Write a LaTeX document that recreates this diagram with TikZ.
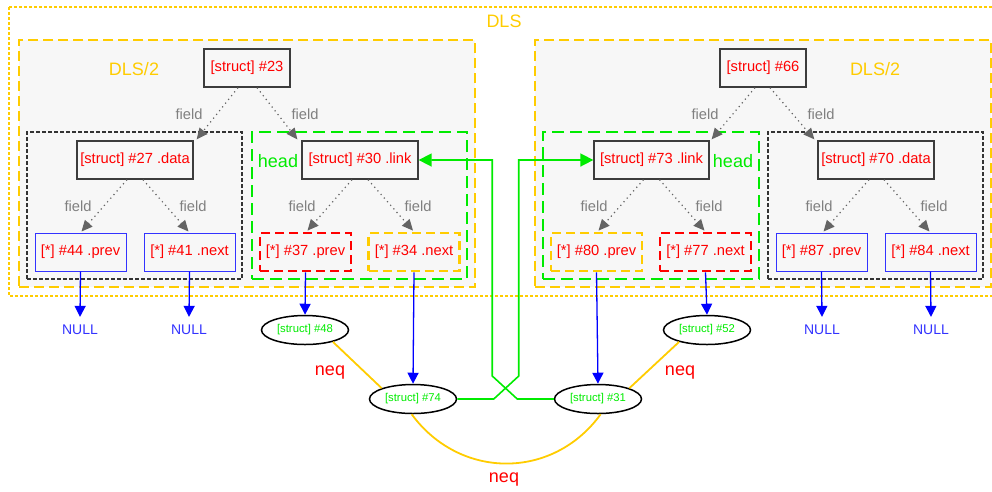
\documentclass[tikz,border=0pt]{standalone}
\usepackage{fontspec}
\setmainfont{Liberation Sans}
\usetikzlibrary{arrows.meta,shapes.geometric}
\definecolor{dlsyel}{RGB}{255,204,0}
\definecolor{hgreen}{RGB}{0,235,0}
\definecolor{tred}{RGB}{255,0,0}
\definecolor{pblue}{RGB}{0,0,255}
\definecolor{pblueb}{RGB}{51,51,255}
\definecolor{bggray}{RGB}{247,247,247}
\definecolor{fgray}{RGB}{128,128,128}
\definecolor{egray}{RGB}{100,100,100}
\definecolor{boxgray}{RGB}{60,60,60}
\begin{document}
\begin{tikzpicture}[x=1pt,y=-1pt,
  nf/.style={font=\fontsize{14.7}{16}\selectfont},
  lab/.style={font=\fontsize{18}{20}\selectfont, inner sep=0pt},
  structbox/.style={nf, draw=boxgray, line width=1.3pt, text=tred, minimum height=38pt, inner sep=0pt},
  ptrbox/.style={nf, draw=pblueb, line width=1pt, text=tred, minimum width=91pt, minimum height=38pt, inner sep=0pt},
  ptrred/.style={nf, draw=tred, line width=2.8pt, dash pattern=on 9pt off 5pt, text=tred, minimum width=91pt, minimum height=38pt, inner sep=0pt},
  ptryel/.style={nf, draw=dlsyel, line width=2.8pt, dash pattern=on 9pt off 5pt, text=tred, minimum width=91pt, minimum height=38pt, inner sep=0pt},
  halfbox/.style={draw=dlsyel, fill=bggray, line width=2.6pt, dash pattern=on 10pt off 5pt, inner sep=0pt, minimum width=456pt, minimum height=247pt},
  headbox/.style={draw=hgreen, fill=bggray, line width=2.8pt, dash pattern=on 12pt off 6pt, inner sep=0pt, minimum height=147pt},
  databox/.style={draw=black!80, fill=bggray, line width=1.2pt, dash pattern=on 4pt off 2pt, inner sep=0pt, minimum height=147pt},
  outerdls/.style={draw=dlsyel, line width=1.2pt, dash pattern=on 3pt off 2pt},
  fieldedge/.style={draw=egray, line width=1.2pt, dash pattern=on 1.2pt off 3.6pt, -{Triangle[length=11pt,width=10pt]}},
  fieldlab/.style={nf, text=fgray, inner sep=0pt},
  ptredge/.style={draw=pblue, line width=1.3pt, -{Triangle[length=11pt,width=11pt]}},
  nulllab/.style={font=\fontsize{14}{16}\selectfont, text=pblueb, inner xsep=0pt, inner ysep=8pt},
  obj/.style={ellipse, draw=black, line width=1.5pt, minimum width=87pt, minimum height=29pt, inner sep=0pt, text=hgreen, font=\fontsize{11.3}{13}\selectfont},
  neqedge/.style={draw=dlsyel, line width=1.8pt},
  neqlab/.style={font=\fontsize{18}{20}\selectfont, text=tred, inner sep=0pt},
  linkedge/.style={draw=hgreen, line width=1.6pt, -{Triangle[length=13pt,width=13pt]}}
]
\useasboundingbox (0,0) rectangle (992,491);

% outer DLS cluster
\draw[outerdls] (9,7) rectangle (999,296);
\node[lab, text=dlsyel] (tdls) at (504,21) {DLS};

% DLS/2 clusters
\node[halfbox] (cl) at (247,163.5) {};
\node[halfbox] (cr) at (763,163.5) {};
\node[lab, text=dlsyel] (tl) at (134,69) {DLS/2};
\node[lab, text=dlsyel] (tr) at (875,69) {DLS/2};

% inner clusters
\node[databox, minimum width=215pt] (dl) at (134.5,205.5) {};
\node[headbox, minimum width=215pt] (hl) at (359.5,205.5) {};
\node[headbox, minimum width=216pt] (hr) at (651,205.5) {};
\node[databox, minimum width=215pt] (dr) at (875.5,205.5) {};
\node[lab, text=hgreen] (thl) at (278,161) {head};
\node[lab, text=hgreen] (thr) at (733,161) {head};

% struct nodes
\node[structbox, minimum width=86pt] (n23) at (247,68) {[struct] \#23};
\node[structbox, minimum width=116pt] (n27) at (135,160) {[struct] \#27 .data};
\node[structbox, minimum width=116pt] (n30) at (360,160) {[struct] \#30 .link};
\node[structbox, minimum width=86pt] (n66) at (763,68) {[struct] \#66};
\node[structbox, minimum width=115pt] (n73) at (651.5,160) {[struct] \#73 .link};
\node[structbox, minimum width=116pt] (n70) at (876,160) {[struct] \#70 .data};

% pointer nodes
\node[ptrbox] (n44) at (80.5,252) {[*] \#44 .prev};
\node[ptrbox] (n41) at (189.5,252) {[*] \#41 .next};
\node[ptrred] (n37) at (305.5,252) {[*] \#37 .prev};
\node[ptryel] (n34) at (414,252) {[*] \#34 .next};
\node[ptryel] (n80) at (596.5,252) {[*] \#80 .prev};
\node[ptrred] (n77) at (705.5,252) {[*] \#77 .next};
\node[ptrbox] (n87) at (821.5,252) {[*] \#87 .prev};
\node[ptrbox] (n84) at (930.5,252) {[*] \#84 .next};

% field edges
\draw[fieldedge] ([xshift=-9pt]n23.south) -- ([xshift=3pt,yshift=1pt]n27.north east);
\draw[fieldedge] ([xshift=10pt]n23.south) -- ([xshift=-4pt,yshift=1pt]n30.north west);
\draw[fieldedge] ([xshift=-8pt]n27.south) -- ([xshift=1pt,yshift=1pt]n44.north);
\draw[fieldedge] ([xshift=8pt]n27.south) -- ([xshift=-1pt,yshift=1pt]n41.north);
\draw[fieldedge] ([xshift=-8pt]n30.south) -- ([xshift=2pt,yshift=1pt]n37.north);
\draw[fieldedge] ([xshift=8pt]n30.south) -- ([xshift=-1pt,yshift=1pt]n34.north);
\draw[fieldedge] ([xshift=-8pt]n66.south) -- ([xshift=2pt,yshift=1pt]n73.north east);
\draw[fieldedge] ([xshift=7pt]n66.south) -- ([xshift=-3pt,yshift=1pt]n70.north west);
\draw[fieldedge] ([xshift=-8pt]n73.south) -- ([xshift=2pt,yshift=1pt]n80.north);
\draw[fieldedge] ([xshift=8pt]n73.south) -- ([xshift=-1pt,yshift=1pt]n77.north);
\draw[fieldedge] ([xshift=-7pt]n70.south) -- ([xshift=2pt,yshift=1pt]n87.north);
\draw[fieldedge] ([xshift=8pt]n70.south) -- ([xshift=-1pt,yshift=1pt]n84.north);

\node[fieldlab] (f1) at (189,114) {field};
\node[fieldlab] (f2) at (305,114) {field};
\node[fieldlab] (f3) at (78,206) {field};
\node[fieldlab] (f4) at (193,206) {field};
\node[fieldlab] (f5) at (302,206) {field};
\node[fieldlab] (f6) at (418,206) {field};
\node[fieldlab] (f7) at (705,114) {field};
\node[fieldlab] (f8) at (821,114) {field};
\node[fieldlab] (f9) at (594,206) {field};
\node[fieldlab] (f10) at (709,206) {field};
\node[fieldlab] (f11) at (819,206) {field};
\node[fieldlab] (f12) at (934,206) {field};

% NULL targets
\node[nulllab] (u44) at (80,330) {NULL};
\node[nulllab] (u41) at (189,330) {NULL};
\node[nulllab] (u87) at (822,330) {NULL};
\node[nulllab] (u84) at (931,330) {NULL};

% object ellipses
\node[obj] (e48) at (305,330) {[struct] \#48};
\node[obj] (e74) at (413,399) {[struct] \#74};
\node[obj] (e31) at (598,399) {[struct] \#31};
\node[obj] (e52) at (707,330) {[struct] \#52};

% pointer edges
\draw[ptredge] (n44.south) -- (u44.north);
\draw[ptredge] (n41.south) -- (u41.north);
\draw[ptredge] (n87.south) -- (u87.north);
\draw[ptredge] (n84.south) -- (u84.north);
\draw[ptredge] (n37.south) -- (e48.north);
\draw[ptredge] (n34.south) -- (e74.north);
\draw[ptredge] (n80.south) -- (e31.north);
\draw[ptredge] (n77.south) -- (e52.north);

% neq edges
\draw[neqedge] (e48.-23) -- (e74.161);
\draw[neqedge] (e52.-157) -- (e31.19);
\draw[neqedge] (e74.-95) .. controls (460,480) and (553,480) .. (e31.-80);
\node[neqlab] (q1) at (330,373) {neq};
\node[neqlab] (q2) at (680,373) {neq};
\node[neqlab] (q3) at (504,480) {neq};

% link edges
\draw[linkedge] (e74.east) -- ++(36.5,0) -- ++(25,-23) |- (n73.west);
\draw[linkedge] (e31.west) -- ++(-36.5,0) -- ++(-25,-23) |- (n30.east);
\end{tikzpicture}
\end{document}
